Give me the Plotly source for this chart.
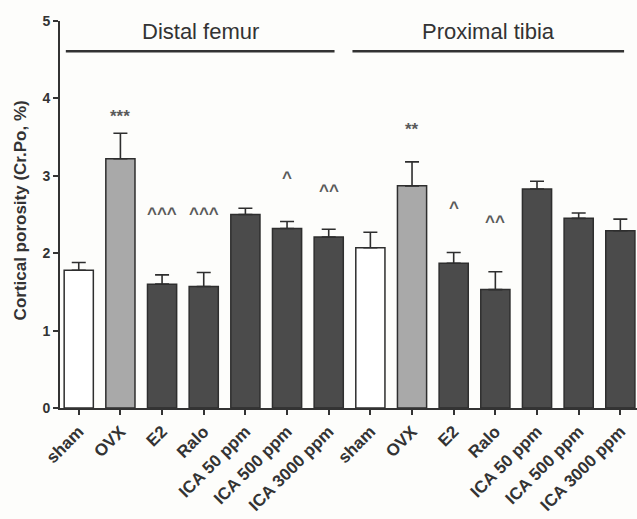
import plotly.graph_objects as go

# Group labels and bar data (cortical porosity, mean and SEM)
groups = ["sham", "OVX", "E2", "Ralo", "ICA 50 ppm", "ICA 500 ppm", "ICA 3000 ppm",
          "sham", "OVX", "E2", "Ralo", "ICA 50 ppm", "ICA 500 ppm", "ICA 3000 ppm"]
means = [1.78, 3.22, 1.60, 1.57, 2.50, 2.32, 2.21,
         2.07, 2.87, 1.87, 1.53, 2.83, 2.45, 2.29]
sems = [0.10, 0.33, 0.12, 0.18, 0.08, 0.09, 0.10,
        0.20, 0.31, 0.14, 0.23, 0.10, 0.07, 0.15]
marks = ["", "***", "^^^", "^^^", "", "^", "^^",
         "", "**", "^", "^^", "", "", ""]
mark_y = [None, 3.76, 2.51, 2.51, None, 2.98, 2.81,
          None, 3.60, 2.59, 2.41, None, None, None]
sites = ["Distal femur", "Proximal tibia"]
site_spans = [(-0.31, 6.14), (6.57, 13.09)]

FONT = "Liberation Sans, Arial"
INK = "#333333"

fill_map = {"sham": "#ffffff", "OVX": "#a9a9a9"}
fills = [fill_map.get(g, "#4b4b4b") for g in groups]
xs = list(range(len(groups)))

fig = go.Figure()
fig.add_trace(go.Bar(
    x=xs, y=means, width=0.7,
    marker=dict(color=fills, line=dict(color="#2e2e2e", width=1.5)),
    error_y=dict(type="data", array=sems, arrayminus=[0] * len(sems),
                 symmetric=False, color="#2e2e2e", thickness=1.6, width=7),
    showlegend=False,
))

ann = []
for x, t, y in zip(xs, marks, mark_y):
    if t:
        ann.append(dict(x=x, y=y, text=t, showarrow=False,
                        font=dict(family=FONT, size=17, color="#5a5a5a", weight="bold")))

shapes = []
for name, (x0, x1) in zip(sites, site_spans):
    shapes.append(dict(type="line", xref="x", yref="y", x0=x0, x1=x1, y0=4.61, y1=4.61,
                       line=dict(color=INK, width=2.5)))
    ann.append(dict(x=(x0 + x1) / 2, y=4.86, text=name, showarrow=False,
                    font=dict(family=FONT, size=22, color=INK)))

ann.append(dict(x=-0.068, xref="paper", xanchor="center", y=0.51, yref="paper",
                text="Cortical porosity (Cr.Po, %)", textangle=-90, showarrow=False,
                font=dict(family=FONT, size=17, color=INK, weight="bold")))

fig.update_layout(
    width=637, height=519,
    margin=dict(l=60, r=0, t=21, b=111),
    paper_bgcolor="#fdfdfb", plot_bgcolor="#fdfdfb",
    annotations=ann, shapes=shapes,
    font=dict(family=FONT, color=INK),
)
fig.update_xaxes(
    range=[-0.45, 13.4], tickvals=xs, ticktext=groups, tickangle=-45,
    showline=True, linecolor=INK, linewidth=2,
    ticks="outside", ticklen=5, tickwidth=1.5, tickcolor=INK,
    tickfont=dict(size=17, family=FONT, color=INK, weight="bold"),
    showgrid=False, zeroline=False,
)
fig.update_yaxes(
    range=[0, 5], tickvals=[0, 1, 2, 3, 4, 5],
    showline=True, linecolor=INK, linewidth=2,
    ticks="outside", ticklen=5, tickwidth=1.5, tickcolor=INK,
    tickfont=dict(size=14, family=FONT, color=INK, weight="bold"),
    showgrid=False, zeroline=False,
)

fig.write_html("out.html")
